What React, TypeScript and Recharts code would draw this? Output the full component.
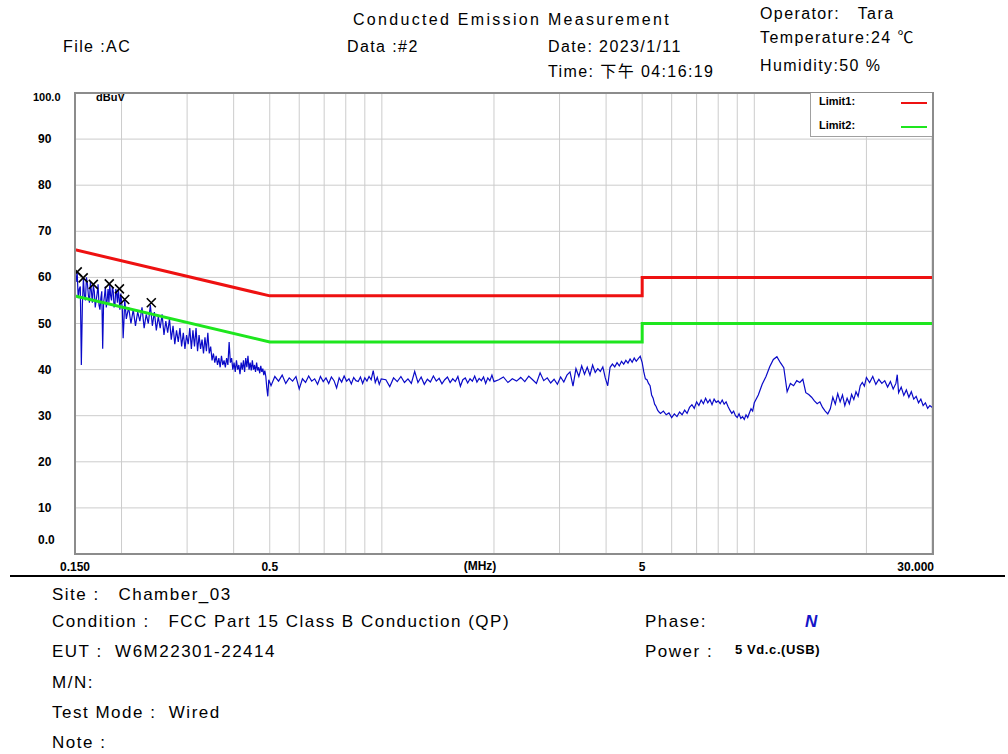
import React from 'react';
import { ComposedChart, Line, Scatter, XAxis, YAxis, CartesianGrid } from 'recharts';

// limit lines (FCC Part 15 class B, QP / AV)
const limitFreqs = [0.15, 0.5, 5, 5, 30];
const limit1Levels = [66, 56, 56, 60, 60];
const limit2Levels = [56, 46, 46, 50, 50];

// measured trace, [MHz, dBuV]
const traceLow: [number, number][] = [
  [0.150, 61.0], [0.151, 59.0], [0.152, 61.3], [0.153, 55.5], [0.154, 57.5], [0.155, 58.0],
  [0.156, 41.0], [0.157, 54.0], [0.158, 59.8], [0.159, 56.0], [0.160, 55.0], [0.161, 60.0],
  [0.162, 58.5], [0.163, 56.0], [0.164, 54.5], [0.165, 59.0], [0.166, 57.0], [0.167, 54.5],
  [0.168, 58.3], [0.169, 57.0], [0.170, 53.5], [0.171, 55.0], [0.172, 56.5], [0.173, 58.5],
  [0.174, 54.0], [0.175, 53.0], [0.176, 55.5], [0.177, 57.0], [0.178, 44.5], [0.179, 54.5],
  [0.180, 56.0], [0.181, 58.0], [0.182, 53.5], [0.183, 55.0], [0.184, 57.5], [0.185, 54.5],
  [0.186, 58.5], [0.187, 56.0], [0.188, 55.0], [0.189, 58.0], [0.190, 57.0], [0.191, 53.5],
  [0.192, 54.0], [0.193, 57.5], [0.194, 56.5], [0.195, 54.5], [0.196, 57.5], [0.197, 55.5],
  [0.198, 53.0], [0.199, 56.5], [0.200, 55.0], [0.201, 53.0], [0.202, 46.8], [0.203, 50.5],
  [0.204, 55.2], [0.206, 51.0], [0.209, 53.5], [0.212, 50.0], [0.215, 53.0], [0.218, 49.5],
  [0.221, 52.5], [0.224, 50.5], [0.227, 53.5], [0.230, 49.0], [0.233, 52.0], [0.236, 50.0],
  [0.239, 54.0], [0.242, 49.5], [0.245, 52.5], [0.248, 48.5], [0.251, 51.5], [0.254, 49.0],
  [0.257, 52.0], [0.260, 47.5], [0.263, 50.5], [0.266, 48.0], [0.269, 51.0], [0.272, 46.5],
  [0.275, 49.5], [0.278, 45.5], [0.281, 48.5], [0.284, 46.0], [0.287, 49.0], [0.290, 45.0],
  [0.293, 48.0], [0.296, 44.5], [0.299, 47.5], [0.302, 45.5], [0.305, 49.0], [0.308, 44.5],
  [0.311, 48.5], [0.314, 45.0], [0.317, 49.0], [0.320, 44.0], [0.323, 47.5], [0.326, 44.5],
  [0.329, 46.5], [0.332, 43.5], [0.335, 47.0], [0.338, 44.0], [0.341, 48.0], [0.344, 43.5],
  [0.347, 45.0], [0.350, 42.0], [0.353, 43.5], [0.356, 41.5], [0.359, 43.0], [0.362, 41.0],
  [0.365, 42.5], [0.368, 40.5], [0.371, 43.0], [0.374, 41.0], [0.377, 42.0], [0.380, 40.5],
  [0.383, 42.5], [0.386, 41.0], [0.389, 46.0], [0.392, 41.5], [0.395, 42.5], [0.398, 40.0],
  [0.401, 41.5], [0.404, 39.5], [0.407, 42.0], [0.410, 40.0], [0.413, 41.0], [0.416, 39.0],
  [0.419, 41.5], [0.422, 40.0], [0.425, 42.0], [0.428, 39.5], [0.431, 42.5], [0.434, 40.5],
  [0.437, 43.0], [0.440, 40.0], [0.443, 41.5], [0.446, 39.8], [0.449, 42.0], [0.452, 40.0],
  [0.455, 41.0], [0.458, 39.5], [0.461, 41.5], [0.464, 39.8], [0.467, 40.5], [0.470, 39.2],
  [0.473, 40.8], [0.476, 39.5], [0.479, 40.2], [0.482, 38.8], [0.485, 39.8], [0.488, 38.5],
  [0.491, 36.0], [0.494, 34.2], [0.497, 37.8],
];

const traceMid: [number, number][] = [
  [0.504, 36.5], [0.516, 38.5], [0.528, 37.5], [0.540, 38.8], [0.552, 37.0], [0.564, 38.2],
  [0.576, 37.5], [0.588, 38.5], [0.600, 35.8], [0.612, 38.0], [0.624, 37.2], [0.636, 38.6],
  [0.648, 37.5], [0.660, 38.0], [0.672, 36.8], [0.684, 38.5], [0.696, 37.4], [0.708, 38.2],
  [0.720, 37.0], [0.732, 38.4], [0.744, 37.6], [0.756, 36.0], [0.768, 38.2], [0.780, 37.3],
  [0.792, 38.6], [0.804, 37.5], [0.816, 38.0], [0.828, 36.9], [0.840, 38.3], [0.852, 37.6],
  [0.864, 37.4], [0.876, 38.4], [0.888, 37.0], [0.900, 38.2], [0.912, 37.5], [0.924, 38.5],
  [0.936, 37.8], [0.948, 39.8], [0.960, 37.2], [0.972, 38.3], [0.984, 36.8], [0.996, 38.0],
  [1.025, 37.8], [1.050, 36.3], [1.075, 38.2], [1.100, 37.4], [1.125, 38.5], [1.150, 37.2],
  [1.175, 38.0], [1.200, 37.0], [1.225, 39.6], [1.250, 37.2], [1.275, 38.4], [1.300, 36.8],
  [1.325, 37.9], [1.350, 37.3], [1.375, 38.6], [1.400, 37.5], [1.425, 38.1], [1.450, 36.9],
  [1.475, 37.8], [1.500, 38.4], [1.525, 37.2], [1.550, 38.0], [1.575, 37.4], [1.600, 38.5],
  [1.625, 36.4], [1.650, 37.8], [1.675, 38.2], [1.700, 37.1], [1.725, 38.0], [1.750, 37.5],
  [1.775, 38.6], [1.800, 37.3], [1.825, 38.1], [1.850, 37.6], [1.875, 38.4], [1.900, 37.0],
  [1.925, 38.2], [1.950, 37.6], [1.975, 38.8], [2.000, 37.4], [2.06, 37.8], [2.12, 38.4],
  [2.18, 37.2], [2.24, 38.0], [2.30, 37.5], [2.36, 38.3], [2.42, 37.4], [2.48, 38.6],
  [2.54, 37.8], [2.60, 37.0], [2.66, 39.3], [2.72, 37.6], [2.78, 38.2], [2.84, 37.1],
  [2.90, 37.9], [2.96, 36.8], [3.02, 38.4], [3.08, 37.3], [3.14, 38.8], [3.20, 39.5],
  [3.26, 36.4], [3.32, 40.2], [3.38, 38.5], [3.44, 40.8], [3.50, 39.0], [3.56, 40.5],
  [3.62, 38.8], [3.68, 41.0], [3.74, 39.4], [3.80, 40.2], [3.86, 39.6], [3.92, 40.6],
  [3.98, 38.2], [4.04, 36.5], [4.10, 40.5], [4.16, 41.2], [4.22, 40.6], [4.28, 41.5],
  [4.34, 40.8], [4.40, 41.8], [4.46, 41.2], [4.52, 42.0], [4.58, 41.4], [4.64, 42.3],
  [4.70, 41.6], [4.76, 42.5], [4.82, 41.8], [4.88, 42.4], [4.94, 42.9], [5.00, 41.5],
];

const traceHigh: [number, number][] = [
  [5.05, 39.5], [5.10, 38.0], [5.15, 37.8], [5.20, 37.0], [5.25, 36.5], [5.30, 34.5],
  [5.35, 33.8], [5.40, 32.5], [5.45, 32.0], [5.50, 31.2], [5.55, 30.8], [5.60, 30.5],
  [5.70, 31.0], [5.80, 30.2], [5.90, 30.6], [6.00, 29.6], [6.10, 30.4], [6.20, 29.8],
  [6.30, 30.8], [6.40, 30.2], [6.50, 31.2], [6.60, 30.5], [6.70, 31.8], [6.80, 32.4],
  [6.90, 31.6], [7.00, 33.0], [7.10, 32.2], [7.20, 33.4], [7.30, 32.6], [7.40, 33.8],
  [7.50, 32.8], [7.60, 33.5], [7.70, 32.4], [7.80, 33.6], [7.90, 32.9], [8.00, 33.2],
  [8.10, 32.6], [8.20, 33.4], [8.30, 32.5], [8.40, 33.0], [8.50, 32.0], [8.60, 31.2],
  [8.70, 30.5], [8.80, 31.0], [8.90, 30.0], [9.00, 29.6], [9.10, 30.4], [9.20, 29.4],
  [9.30, 29.8], [9.40, 29.2], [9.50, 30.2], [9.60, 29.6], [9.70, 30.6], [9.80, 31.5],
  [9.90, 31.0], [10.00, 32.8], [10.25, 34.5], [10.50, 36.8], [10.75, 38.5], [11.00, 40.6],
  [11.25, 42.2], [11.50, 42.8], [11.75, 41.5], [12.00, 40.4], [12.25, 35.2], [12.50, 37.0],
  [12.75, 36.5], [13.00, 37.6], [13.25, 37.2], [13.50, 37.9], [13.75, 35.0], [14.00, 34.6],
  [14.25, 34.0], [14.50, 33.2], [14.75, 32.6], [15.00, 33.0], [15.25, 31.8], [15.50, 31.0],
  [15.75, 30.4], [16.00, 31.5], [16.25, 34.0], [16.50, 32.5], [16.75, 34.8], [17.00, 33.0],
  [17.25, 34.5], [17.50, 32.2], [17.75, 33.8], [18.00, 32.6], [18.25, 34.6], [18.50, 33.5],
  [18.75, 35.2], [19.00, 34.2], [19.25, 36.5], [19.50, 37.2], [19.75, 36.4], [20.00, 38.3],
  [20.4, 37.2], [20.8, 38.5], [21.2, 36.8], [21.6, 37.9], [22.0, 37.0], [22.4, 37.6],
  [22.8, 36.2], [23.2, 37.4], [23.6, 35.8], [24.0, 37.0], [24.2, 38.9], [24.4, 35.0],
  [24.8, 36.2], [25.2, 34.4], [25.6, 35.6], [26.0, 34.0], [26.4, 35.2], [26.8, 33.6],
  [27.2, 34.2], [27.6, 32.8], [28.0, 33.6], [28.4, 32.2], [28.8, 32.8], [29.2, 31.6],
  [29.6, 32.2], [30.0, 31.8],
];

// QP markers
const markerPoints: [number, number][] = [
  [0.1521, 61.2], [0.1578, 59.9], [0.1680, 58.5], [0.1854, 58.6],
  [0.1974, 57.5], [0.2040, 55.2], [0.2404, 54.5],
];

const xGridTicks = [0.15, 0.2, 0.3, 0.4, 0.5, 0.6, 0.7, 0.8, 0.9, 1, 2, 3, 4, 5, 6, 7, 8, 9, 10, 20, 30];
const xTickLabels: Record<number, string> = { 0.15: '0.150', 0.5: '0.5', 5: '5', 30: '30.000' };
const yTicks = [0, 10, 20, 30, 40, 50, 60, 70, 80, 90, 100];

const limit1 = limitFreqs.map((f, i) => ({ f, v: limit1Levels[i] }));
const limit2 = limitFreqs.map((f, i) => ({ f, v: limit2Levels[i] }));
const trace = [...traceLow, ...traceMid, ...traceHigh].map(([f, v]) => ({ f, v }));
const markers = markerPoints.map(([f, v]) => ({ f, v }));

const axisFont = '"Liberation Sans Narrow", "Liberation Sans", Arial, sans-serif';
const textFont = '"Liberation Sans", Arial, "Noto Sans CJK SC", sans-serif';

const XTick = (props: any) => {
  const { x, payload } = props;
  const label = xTickLabels[payload.value];
  if (!label) return null;
  const last = payload.value === 30;
  return (
    <text x={last ? x + 2 : x} y={571} textAnchor={last ? 'end' : 'middle'}
      fontFamily={axisFont} fontWeight="bold" fontSize={12} fill="#000">
      {label}
    </text>
  );
};

const YTick = (props: any) => {
  const { y, payload } = props;
  if (payload.value === 100) {
    return (
      <g fontFamily={axisFont} fontWeight="bold" fontSize={11} fill="#000">
        <text x={33} y={101}>100.0</text>
        <text x={96} y={101}>dBuV</text>
      </g>
    );
  }
  const label = payload.value === 0 ? '0.0' : String(payload.value);
  return (
    <text x={38} y={payload.value === 0 ? y - 10 : y + 4} fontFamily={axisFont} fontWeight="bold" fontSize={12} fill="#000">
      {label}
    </text>
  );
};

const Cross = (props: any) => {
  const { cx, cy } = props;
  const s = 4.5;
  return (
    <path d={`M${cx - s},${cy - s}L${cx + s},${cy + s}M${cx - s},${cy + s}L${cx + s},${cy - s}`} stroke="#000" strokeWidth={1.6} />
  );
};

const abs = (left: number, top: number, extra: React.CSSProperties = {}): React.CSSProperties => ({
  position: 'absolute', left, top, whiteSpace: 'nowrap', ...extra,
});

const head: React.CSSProperties = { fontFamily: textFont, fontSize: 16, letterSpacing: 1.4, color: '#000', lineHeight: '18px' };
const foot: React.CSSProperties = { fontFamily: textFont, fontSize: 17, letterSpacing: 1.5, color: '#000', lineHeight: '20px' };

export default function App() {
  return (
    <div style={{ position: 'absolute', left: 0, top: 0, width: 1008, height: 754, background: '#fff', overflow: 'hidden' }}>
      <ComposedChart width={1008} height={754} margin={{ top: 93, right: 76, bottom: 170, left: 0 }}>
        <CartesianGrid stroke="#cccccc" strokeWidth={1} />
        <XAxis type="number" dataKey="f" scale="log" domain={[0.15, 30]} allowDataOverflow ticks={xGridTicks}
          interval={0} tick={<XTick />} axisLine={false} tickLine={false} height={30} />
        <YAxis type="number" domain={[0, 100]} ticks={yTicks} interval={0} tick={<YTick />}
          axisLine={false} tickLine={false} width={75} />
        <Line data={trace} dataKey="v" stroke="#0a0ac8" strokeWidth={1.2} dot={false} isAnimationActive={false} />
        <Line data={limit2} dataKey="v" stroke="#1ee61e" strokeWidth={3} dot={false} isAnimationActive={false} />
        <Line data={limit1} dataKey="v" stroke="#ee1111" strokeWidth={3} dot={false} isAnimationActive={false} />
        <Scatter data={markers} dataKey="v" shape={<Cross />} isAnimationActive={false} />
      </ComposedChart>

      {/* plot frame */}
      <div style={abs(74, 92, { width: 860, height: 463, border: '2px solid #8c8c8c', boxSizing: 'border-box' })} />

      {/* legend */}
      <div style={abs(810, 93, { width: 122, height: 44, background: '#fff', borderLeft: '1px solid #a0a0a0', borderBottom: '1px solid #a0a0a0', boxSizing: 'border-box', fontFamily: axisFont, fontWeight: 'bold', fontSize: 11 })}>
        <span style={abs(8, 2)}>Limit1:</span>
        <div style={abs(90, 9, { width: 26, height: 2, background: '#ee1111' })} />
        <span style={abs(8, 26)}>Limit2:</span>
        <div style={abs(90, 33, { width: 26, height: 2, background: '#1ee61e' })} />
      </div>

      <div style={abs(480, 559, { transform: 'translateX(-50%)', fontFamily: axisFont, fontWeight: 'bold', fontSize: 12 })}>(MHz)</div>

      <div style={abs(10, 575, { width: 995, height: 2, background: '#000' })} />

      {/* header */}
      <div style={abs(353, 11, { ...head, letterSpacing: 2.3 })}>Conducted Emission Measurement</div>
      <div style={abs(63, 38, head)}>File :AC</div>
      <div style={abs(347, 38, head)}>Data :#2</div>
      <div style={abs(548, 38, head)}>Date: 2023/1/11</div>
      <div style={abs(548, 63, head)}>Time: 下午 04:16:19</div>
      <div style={abs(760, 5, head)}>Operator:&nbsp;&nbsp;&nbsp;Tara</div>
      <div style={abs(760, 29, head)}>Temperature:24 ℃</div>
      <div style={abs(760, 57, head)}>Humidity:50 %</div>

      {/* footer */}
      <div style={abs(52, 585, foot)}>Site :&nbsp;&nbsp;&nbsp;Chamber_03</div>
      <div style={abs(52, 612, foot)}>Condition :&nbsp;&nbsp;&nbsp;FCC Part 15 Class B Conduction (QP)</div>
      <div style={abs(52, 642, foot)}>EUT :&nbsp;&nbsp;W6M22301-22414</div>
      <div style={abs(52, 673, foot)}>M/N:</div>
      <div style={abs(52, 703, foot)}>Test Mode :&nbsp;&nbsp;Wired</div>
      <div style={abs(52, 733, foot)}>Note :</div>
      <div style={abs(645, 612, foot)}>Phase:</div>
      <div style={abs(805, 612, { ...foot, color: '#1414c8', fontWeight: 'bold', fontStyle: 'italic' })}>N</div>
      <div style={abs(645, 642, foot)}>Power :</div>
      <div style={abs(735, 640, { ...foot, fontSize: 13, fontWeight: 'bold', letterSpacing: 0.6 })}>5 Vd.c.(USB)</div>
    </div>
  );
}
